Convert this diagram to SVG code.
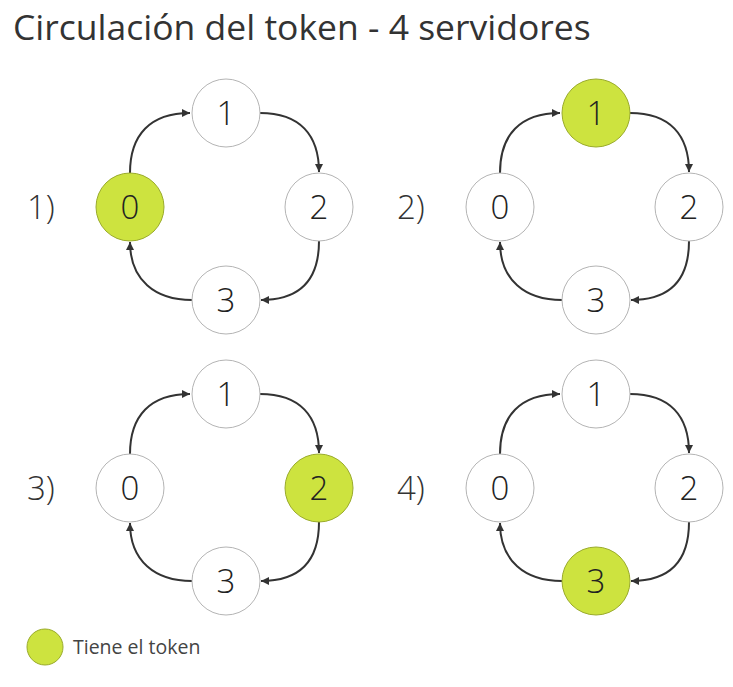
<svg xmlns="http://www.w3.org/2000/svg" width="733" height="687" viewBox="0 0 733 687">
<style>
text{font-family:"Open Sans","Noto Sans","Liberation Sans",sans-serif;}
.title{font-size:35.5px;fill:#333;font-weight:400;}
.lbl{font-size:33px;fill:#333;font-weight:300;}
.num{font-size:33px;fill:#222;text-anchor:middle;font-weight:300;}
.node{fill:#fff;stroke:#b4b4b4;stroke-width:1;}
.tok{fill:#cde33f;stroke:#9aab2c;stroke-width:1;}
.edge{fill:none;stroke:#333;stroke-width:2;marker-end:url(#ah);}
.leg{font-size:19.5px;fill:#444;font-weight:400;}
</style>
<defs>
<marker id="ah" markerUnits="userSpaceOnUse" markerWidth="9" markerHeight="9" refX="8" refY="4" orient="auto">
<path d="M0,0 L8,4 L0,8 Z" fill="#333"/>
</marker>
</defs>
<rect width="733" height="687" fill="#fff"/>
<text class="title" x="13" y="40">Circulación del token - 4 servidores</text>

<g id="q1">
<text class="lbl" x="27" y="219">1)</text>
<g id="q1-edges">
<path class="edge" d="M130,173 C130,135 150,113 190,113"/>
<path class="edge" d="M260,113 C300,113 319,135 319,172"/>
<path class="edge" d="M319,241 C319,280 300,300 261,300"/>
<path class="edge" d="M192,300 C155,300 130,280 130,242"/>
</g>
<g id="q1-n0"><circle class="tok" cx="130" cy="207" r="34"/><text class="num" x="130" y="219">0</text></g>
<g id="q1-n1"><circle class="node" cx="226" cy="113" r="34"/><text class="num" x="226" y="125">1</text></g>
<g id="q1-n2"><circle class="node" cx="319" cy="207" r="34"/><text class="num" x="319" y="219">2</text></g>
<g id="q1-n3"><circle class="node" cx="226" cy="300" r="34"/><text class="num" x="226" y="312">3</text></g>
</g>

<g id="q2" transform="translate(370,0)">
<text class="lbl" x="27" y="219">2)</text>
<g id="q2-edges">
<path class="edge" d="M130,173 C130,135 150,113 190,113"/>
<path class="edge" d="M260,113 C300,113 319,135 319,172"/>
<path class="edge" d="M319,241 C319,280 300,300 261,300"/>
<path class="edge" d="M192,300 C155,300 130,280 130,242"/>
</g>
<g id="q2-n0"><circle class="node" cx="130" cy="207" r="34"/><text class="num" x="130" y="219">0</text></g>
<g id="q2-n1"><circle class="tok" cx="226" cy="113" r="34"/><text class="num" x="226" y="125">1</text></g>
<g id="q2-n2"><circle class="node" cx="319" cy="207" r="34"/><text class="num" x="319" y="219">2</text></g>
<g id="q2-n3"><circle class="node" cx="226" cy="300" r="34"/><text class="num" x="226" y="312">3</text></g>
</g>

<g id="q3" transform="translate(0,281)">
<text class="lbl" x="27" y="219">3)</text>
<g id="q3-edges">
<path class="edge" d="M130,173 C130,135 150,113 190,113"/>
<path class="edge" d="M260,113 C300,113 319,135 319,172"/>
<path class="edge" d="M319,241 C319,280 300,300 261,300"/>
<path class="edge" d="M192,300 C155,300 130,280 130,242"/>
</g>
<g id="q3-n0"><circle class="node" cx="130" cy="207" r="34"/><text class="num" x="130" y="219">0</text></g>
<g id="q3-n1"><circle class="node" cx="226" cy="113" r="34"/><text class="num" x="226" y="125">1</text></g>
<g id="q3-n2"><circle class="tok" cx="319" cy="207" r="34"/><text class="num" x="319" y="219">2</text></g>
<g id="q3-n3"><circle class="node" cx="226" cy="300" r="34"/><text class="num" x="226" y="312">3</text></g>
</g>

<g id="q4" transform="translate(370,281)">
<text class="lbl" x="27" y="219">4)</text>
<g id="q4-edges">
<path class="edge" d="M130,173 C130,135 150,113 190,113"/>
<path class="edge" d="M260,113 C300,113 319,135 319,172"/>
<path class="edge" d="M319,241 C319,280 300,300 261,300"/>
<path class="edge" d="M192,300 C155,300 130,280 130,242"/>
</g>
<g id="q4-n0"><circle class="node" cx="130" cy="207" r="34"/><text class="num" x="130" y="219">0</text></g>
<g id="q4-n1"><circle class="node" cx="226" cy="113" r="34"/><text class="num" x="226" y="125">1</text></g>
<g id="q4-n2"><circle class="node" cx="319" cy="207" r="34"/><text class="num" x="319" y="219">2</text></g>
<g id="q4-n3"><circle class="tok" cx="226" cy="300" r="34"/><text class="num" x="226" y="312">3</text></g>
</g>

<g id="legend">
<circle class="tok" cx="45" cy="647" r="18"/>
<text class="leg" x="73" y="654">Tiene el token</text>
</g>
</svg>
